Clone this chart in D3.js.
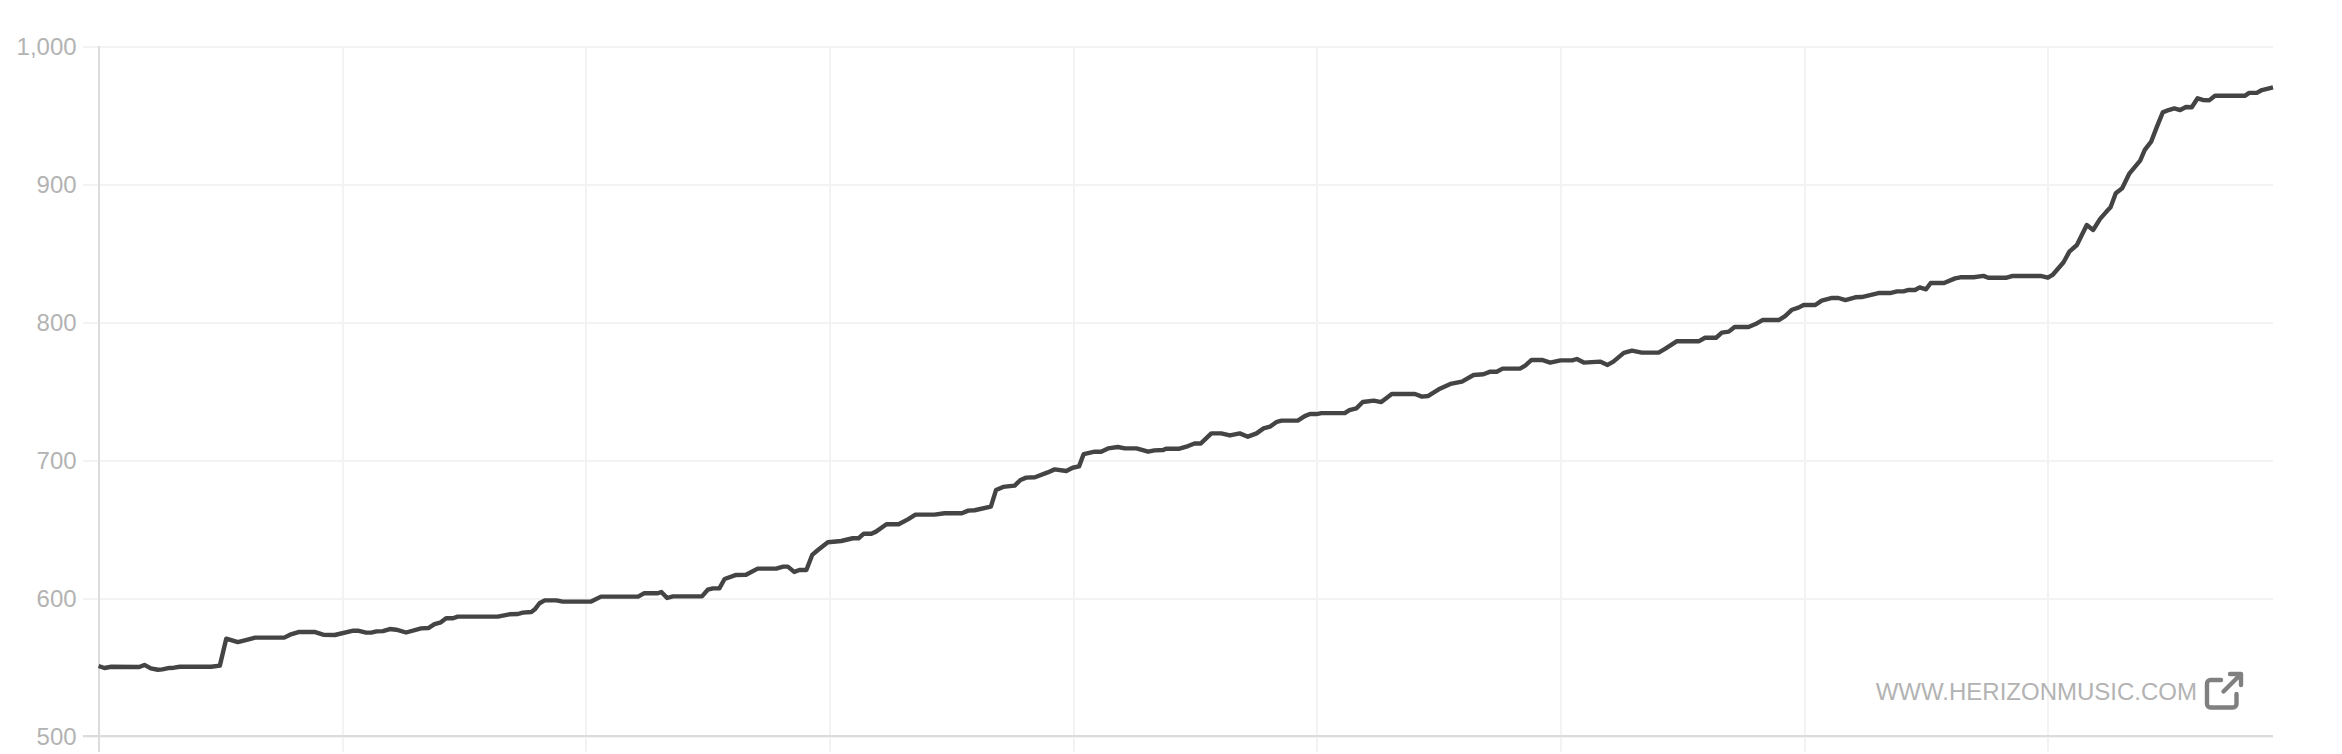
<!DOCTYPE html>
<html>
<head>
<meta charset="utf-8">
<style>
html,body{margin:0;padding:0;background:#fff;overflow:hidden}
svg{display:block}
text{font-family:"Liberation Sans",Helvetica,Arial,sans-serif}
</style>
<script src="https://cdn.jsdelivr.net/npm/d3@7/dist/d3.min.js"></script>
</head>
<body>
<svg id="chart" width="2342" height="754"></svg>
<script>
const yTicks = [500, 600, 700, 800, 900, 1000];
const xTicks = [0, 42, 84, 126, 168, 210, 252, 294, 336];
const watermark = "WWW.HERIZONMUSIC.COM";

const days = [
0,1,2.2,7,7.9,9,10.2,11,12.2,13,14,19.4,20.9,22,24,25.7,27,32,33,34.6,37.2,38.7,40.7,43.9,44.7,46.1,47,47.9,49,50.2,51.3,53,
55.6,56.9,57.9,59,59.9,61.1,61.9,68.8,70.8,72.3,73.1,74.6,75.2,76,76.9,78.9,80,84.9,86.6,93,94,96.4,97,98,99,104,105,105.9,107,107.9,
109.9,111.6,113.6,116.8,118,118.8,119.9,120.8,122,123,124,125.7,128,130,131,131.9,133.2,134,135.8,137.9,139.5,140.8,144.1,145.8,148.8,149.9,151,153.8,154.7,155.9,157.9,158.9,159.9,161.4,
163.6,164.8,166.8,167.9,169,169.8,171.7,172.8,174,175.7,176.9,178.9,180.9,182,183.5,184,186.3,187.8,188.9,190,191.8,193.5,195,196.7,198.1,199.6,200.8,201.9,203.1,203.9,206.7,207.9,208.8,209.9,210.8,214.8,215.6,216.8,
217.9,219.8,221.1,222.9,226.9,228.1,229.2,231,233,235,237,238.7,239.9,241,242,245,245.9,247,248.8,250.2,252,254,254.8,256,258.8,260.1,261.1,262.9,264.3,266,268.9,270,
272,275.8,276.9,278.8,279.8,281,282,284.4,285.6,286.8,289.6,290.7,291.9,293,293.9,295.9,297,298.8,299.9,301.1,302.8,303.9,306.8,308.8,310,311.1,312,313.1,313.9,315,315.8,318.1,320,320.9,323.2,
324.9,325.7,328.9,329.8,334.9,336,336.8,338.7,339.7,341,342.7,343.8,345,346.1,346.8,347.7,348.8,350,351.9,352.7,353.8,354.8,355.8,356.8,357.8,358.8,359.8,360.8,361.8,362.7,363.8,364.8,370,370.7,372,372.9,374.8
];
const values = [
550.7,549.3,550.2,550,551.5,549,548,548.3,549.3,549.5,550.2,550.2,551,570.5,568,569.8,571.3,571.3,573.4,575.4,575.4,573.4,573.2,576.3,576.3,574.9,574.9,575.8,576,577.5,577,575,
578,578.3,581,582.4,585.3,585.3,586.5,586.5,588.2,588.4,589.4,589.9,591.8,596.2,598.3,598.3,597.4,597.4,601,601,603.4,603.4,604.4,600,601.2,601.2,606,607,607,613.8,
616.7,616.9,621.3,621.3,622.7,622.7,618.9,620.3,620.3,631.2,634.8,640.4,641.3,643.3,643.3,646.6,646.6,648.1,653.4,653.4,657,660.4,660.4,661.4,661.4,663.3,663.6,666.2,678.3,680.5,681.4,685.5,687.2,687.5,
691,693.2,692,694.4,695.4,704.3,706,706,708.4,709.4,708.4,708.4,706,707,707.2,708.2,708.2,710.1,712,712,719.3,719.3,717.8,719.3,716.9,719.3,722.9,724.1,727.7,728.5,728.5,731.8,733.3,733.3,734,734,736.2,737.4,
742,743,742,747.8,747.8,745.9,746.4,751.2,755.1,756.8,761.6,762.1,764,764,766.2,766.2,768.4,772.5,772.5,770.6,772.2,772.2,773.2,770.6,771.3,768.9,771.3,777.6,779.2,777.8,777.8,780.5,
786,786,788.6,788.6,792.3,793,796.4,796.4,798.5,801.4,801.4,804.3,808.9,810.4,812.3,812.3,815.5,817.4,817.4,815.9,817.9,818.1,821,821,822.2,822.2,823.2,823.2,825.1,823.7,828.3,828.3,831.6,832.4,832.4,
833.4,832.1,832.1,833.3,833.3,832.1,834.1,843.3,851,855.8,870.3,866.7,874.7,880,883.1,893.3,896.9,907.3,916.9,924.7,930.7,941.6,951.9,953.6,954.8,953.6,955.8,955.6,962.1,960.9,960.6,964,964,966,966,968.1,970
];

const margin = {left: 98.6, right: 2273, top: 46, bottom: 736};
const x = d3.scaleLinear().domain([0, 374.8]).range([margin.left, margin.right]);
const y = d3.scaleLinear().domain([500, 1000]).range([margin.bottom, margin.top]);
const svg = d3.select("#chart");

// horizontal grid + y labels
const yAxis = d3.axisLeft(y).tickValues(yTicks).tickFormat(d3.format(","))
  .tickSize(-(margin.right - margin.left)).tickPadding(7);
const yG = svg.append("g").attr("transform", `translate(${margin.left},0)`).call(yAxis);
yG.select(".domain").remove();
yG.selectAll(".tick line").attr("stroke", "#f3f3f3").attr("stroke-width", 2)
  .attr("x1", -16).attr("shape-rendering", "crispEdges");
yG.selectAll(".tick text").attr("fill", "#b3b3b3").attr("font-size", 24)
  .attr("x", -22).attr("dy", "0.34em").attr("font-family", '"Liberation Sans"');

// vertical grid
const xAxis = d3.axisBottom(x).tickValues(xTicks).tickFormat("")
  .tickSize(-(margin.bottom - margin.top));
const xG = svg.append("g").attr("transform", `translate(0,${margin.bottom})`).call(xAxis);
xG.select(".domain").remove();
xG.selectAll(".tick line").attr("stroke", "#f3f3f3").attr("stroke-width", 2)
  .attr("y2", 16).attr("y1", -(margin.bottom - margin.top)).attr("shape-rendering", "crispEdges");
xG.selectAll(".tick text").remove();
xG.selectAll(".tick").filter(d => d === 0).select("line").attr("stroke", "#dcdcdc");

// axis baseline
svg.append("line").attr("x1", 83).attr("x2", margin.right)
  .attr("y1", y(500)).attr("y2", y(500)).attr("stroke", "#dcdcdc").attr("stroke-width", 2)
  .attr("shape-rendering", "crispEdges");

// series
const line = d3.line().x(i => x(days[i])).y(i => y(values[i])).curve(d3.curveLinear);
svg.append("path").attr("d", line(d3.range(days.length)))
  .attr("fill", "none").attr("stroke", "#444444").attr("stroke-width", 4.4)
  .attr("stroke-linejoin", "round");

// watermark
svg.append("text").attr("x", 2197).attr("y", 700).attr("text-anchor", "end")
  .attr("font-size", 24).attr("fill", "#b3b3b3").text(watermark);
const icon = svg.append("g").attr("fill", "none").attr("stroke", "#808080")
  .attr("stroke-width", 4.4).attr("stroke-linecap", "round").attr("stroke-linejoin", "round");
icon.append("path").attr("d", "M2221 680H2210.5a3.5 3.5 0 0 0-3.5 3.5V704a3.5 3.5 0 0 0 3.5 3.5H2233a3.5 3.5 0 0 0 3.5-3.5V694");
icon.append("path").attr("d", "M2223.5 691.5L2241 674M2230 674H2241V685");
</script>
</body>
</html>
